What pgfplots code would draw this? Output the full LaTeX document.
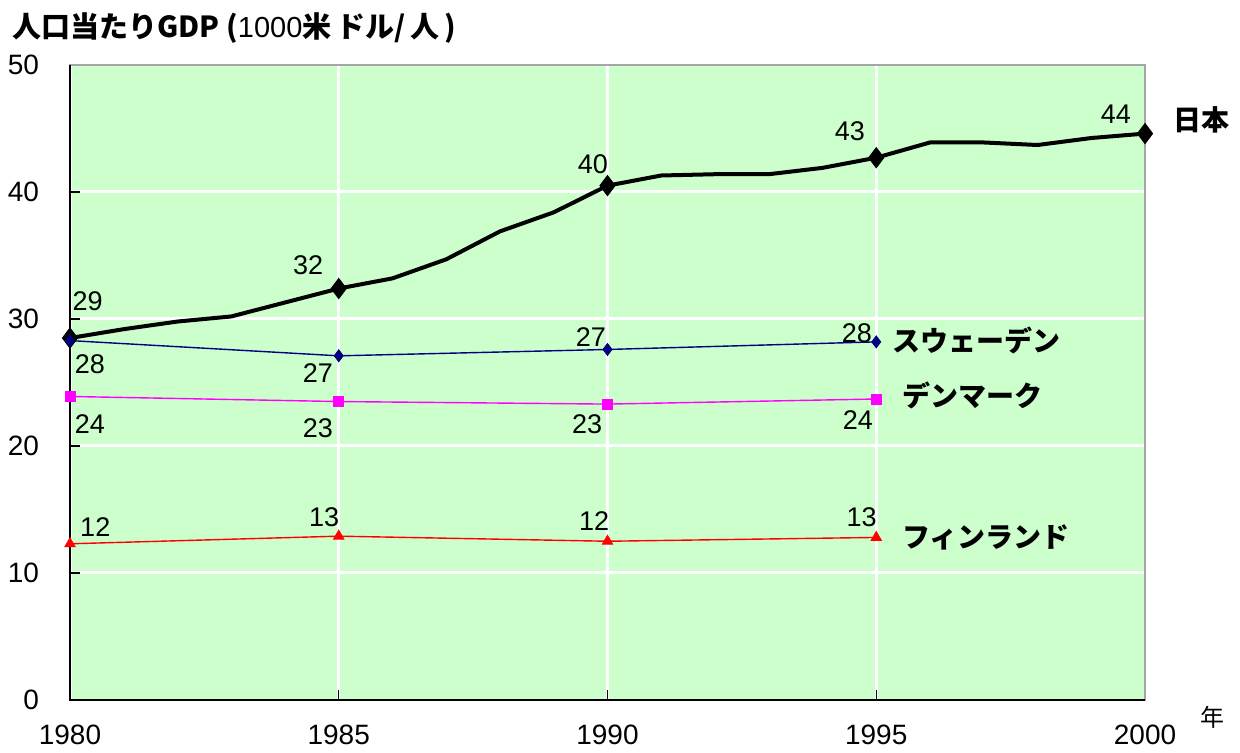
\documentclass[border=0pt]{standalone}
\usepackage{fontspec}
\setmainfont{Liberation Sans}
\newfontfamily\jp{Noto Sans CJK JP}
\usepackage{pgfplots}
\pgfplotsset{compat=1.18}
\definecolor{bg}{HTML}{CCFFCC}
\definecolor{navy}{HTML}{000080}
\definecolor{mag}{HTML}{FF00FF}
\tikzset{lbl/.style={font=\fontsize{13.5bp}{15bp}\selectfont, inner sep=0}}
\tikzset{nm/.style={anchor=west, inner sep=0, font=\jp\bfseries\fontsize{14bp}{16bp}\selectfont}}
\begin{document}
\begin{tikzpicture}
\useasboundingbox (0,0) rectangle (620bp,376.5bp);
\begin{axis}[
 at={(35bp,26.5bp)}, anchor=south west, scale only axis,
 width=537.5bp, height=317.5bp,
 xmin=1980, xmax=2000, ymin=0, ymax=50,
 xtick={1980,1985,...,2000}, ytick={0,10,...,50},
 grid=major, major grid style={white, line width=1.5bp},
 axis background/.style={fill=bg},
 axis line style={gray!70, line width=0.8bp},
 tick align=inside, tick pos=left, major tick length=5bp,
 tick style={black, line width=0.6bp},
 /pgf/number format/assume math mode=true,
 /pgf/number format/1000 sep={},
 tick label style={font=\fontsize{14bp}{16bp}\selectfont},
 xticklabel style={yshift=-9bp},
 yticklabel style={xshift=-12bp},
 clip=false,
]
\addplot[black, line width=2bp, mark=diamond*, mark size=5bp, mark repeat=5, mark options={line width=0.5bp}] coordinates {
(1980,28.5)(1981,29.2)(1982,29.8)(1983,30.2)(1984,31.3)(1985,32.4)(1986,33.2)(1987,34.7)(1988,36.9)(1989,38.4)(1990,40.5)(1991,41.3)(1992,41.4)(1993,41.4)(1994,41.9)(1995,42.7)(1996,43.9)(1997,43.9)(1998,43.7)(1999,44.25)(2000,44.6)};
\addplot[navy, line width=0.7bp, mark=diamond*, mark size=3bp, mark options={line width=0.4bp}] coordinates {(1980,28.3)(1985,27.1)(1990,27.6)(1995,28.2)};
\addplot[mag, line width=0.7bp, mark=square*, mark size=2.5bp, mark options={line width=0.4bp}] coordinates {(1980,23.9)(1985,23.5)(1990,23.3)(1995,23.7)};
\addplot[red, line width=0.7bp, mark=triangle*, mark size=3bp, mark options={line width=0.4bp}] coordinates {(1980,12.3)(1985,12.9)(1990,12.5)(1995,12.8)};
\draw[black, line width=1bp] (rel axis cs:0,1) -- (rel axis cs:0,0) -- (rel axis cs:1,0);
% data labels
\node[lbl] at (axis cs:1980.33,31.4) {29};
\node[lbl] at (axis cs:1984.43,34.25) {32};
\node[lbl] at (axis cs:1989.73,42.2) {40};
\node[lbl] at (axis cs:1994.51,44.8) {43};
\node[lbl] at (axis cs:1999.46,46.14) {44};
\node[lbl] at (axis cs:1980.37,26.46) {28};
\node[lbl] at (axis cs:1984.61,25.75) {27};
\node[lbl] at (axis cs:1989.69,28.58) {27};
\node[lbl] at (axis cs:1994.64,28.9) {28};
\node[lbl] at (axis cs:1980.37,21.73) {24};
\node[lbl] at (axis cs:1984.61,21.42) {23};
\node[lbl] at (axis cs:1989.62,21.73) {23};
\node[lbl] at (axis cs:1994.66,22.05) {24};
\node[lbl] at (axis cs:1980.47,13.62) {12};
\node[lbl] at (axis cs:1984.73,14.41) {13};
\node[lbl] at (axis cs:1989.75,14.09) {12};
\node[lbl] at (axis cs:1994.73,14.41) {13};
% series names
\node[nm] at (axis cs:2000.52,45.67) {日本};
\node[nm] at (axis cs:1995.29,28.35) {スウェーデン};
\node[nm] at (axis cs:1995.48,23.98) {デンマーク};
\node[nm] at (axis cs:1995.48,12.83) {フィンランド};
\end{axis}
\node[anchor=base west, inner sep=0, font=\fontsize{14.5bp}{16bp}\selectfont] at (6bp,357.5bp) {{\jp\bfseries 人口当たりGDP (}1000{\jp\bfseries 米\,ドル/\,人\,)}};
\node[font=\jp\fontsize{12bp}{12bp}\selectfont] at (606bp,18bp) {年};
\end{tikzpicture}
\end{document}
